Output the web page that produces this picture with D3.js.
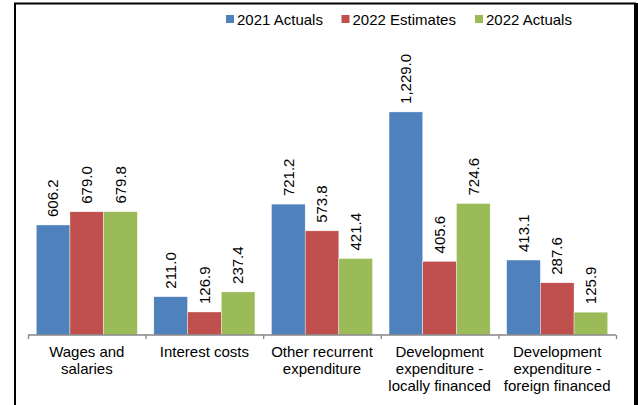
<!DOCTYPE html>
<html><head><meta charset="utf-8">
<script src="https://cdn.jsdelivr.net/npm/d3@7"></script>
<style>body{margin:0;background:#fff}svg{display:block;font-family:"Liberation Sans",Arial,sans-serif}</style>
</head><body>
<script>
const categories = [
  ["Wages and","salaries"],
  ["Interest costs"],
  ["Other recurrent","expenditure"],
  ["Development","expenditure -","locally financed"],
  ["Development","expenditure -","foreign financed"]
];
const seriesNames = ["2021 Actuals","2022 Estimates","2022 Actuals"];
const seriesColors = ["#4F81BD","#C0504D","#9BBB59"];
const actuals2021 = [606.2, 211.0, 721.2, 1229.0, 413.1];
const estimates2022 = [679.0, 126.9, 573.8, 405.6, 287.6];
const actuals2022 = [679.8, 237.4, 421.4, 724.6, 125.9];
const seriesValues = [actuals2021, estimates2022, actuals2022];

const W = 638, H = 405;
const svg = d3.select("body").append("svg").attr("width", W).attr("height", H);

// frame
svg.append("rect").attr("x",15).attr("y",3.5).attr("width",620).attr("height",420)
  .attr("fill","none").attr("stroke","#000").attr("stroke-width",2);
svg.append("line").attr("x1",636.5).attr("x2",636.5).attr("y1",3).attr("y2",405)
  .attr("stroke","#000").attr("stroke-width",3);

const baseY = 335;
const x0 = d3.scaleBand().domain(d3.range(categories.length)).range([28, 616]).padding(0);
const x1 = d3.scaleBand().domain(d3.range(seriesNames.length)).range([0, x0.bandwidth()])
  .paddingInner(0).paddingOuter(0.245);
const y = d3.scaleLinear().domain([0, 1400]).range([baseY, baseY - 1400*0.1815]);

const fmt = d3.format(",.1f");

seriesValues.forEach((vals, s) => {
  const g = svg.append("g");
  g.selectAll("rect").data(vals).join("rect")
    .attr("x", (d,i) => x0(i) + x1(s))
    .attr("width", x1.bandwidth())
    .attr("y", d => y(d))
    .attr("height", d => baseY - y(d))
    .attr("fill", seriesColors[s])
    .attr("stroke","#fff").attr("stroke-width",0.4);
  g.selectAll("text").data(vals).join("text")
    .attr("transform", (d,i) => `translate(${x0(i) + x1(s) + x1.bandwidth()/2},${y(d) - 8}) rotate(-90)`)
    .attr("dy","0.35em")
    .attr("font-size",15).attr("fill","#000")
    .text(d => fmt(d));
});

// x axis
const axis = d3.axisBottom(d3.scaleLinear().domain([0, categories.length]).range([28,616]))
  .tickValues(d3.range(categories.length+1)).tickSize(4).tickFormat("");
const ax = svg.append("g").attr("transform",`translate(0,${baseY})`).call(axis);
ax.selectAll("path,line").attr("stroke","#868686").attr("stroke-width",1.3);
ax.select("path").attr("d","M28,0H616");

// category labels
categories.forEach((lines, i) => {
  const t = svg.append("text").attr("text-anchor","middle").attr("font-size",15).attr("fill","#000")
    .attr("x", x0(i) + x0.bandwidth()/2).attr("y", 357);
  lines.forEach((ln, k) => t.append("tspan").attr("x", x0(i) + x0.bandwidth()/2).attr("dy", k ? 17 : 0).text(ln));
});

// legend
const legX = [226, 341.5, 475];
seriesNames.forEach((n, s) => {
  svg.append("rect").attr("x", legX[s]).attr("y", 15).attr("width",8).attr("height",8).attr("fill",seriesColors[s]);
  svg.append("text").attr("x", legX[s] + 11).attr("y", 24.5).attr("font-size",15).text(n);
});
</script>
</body></html>
